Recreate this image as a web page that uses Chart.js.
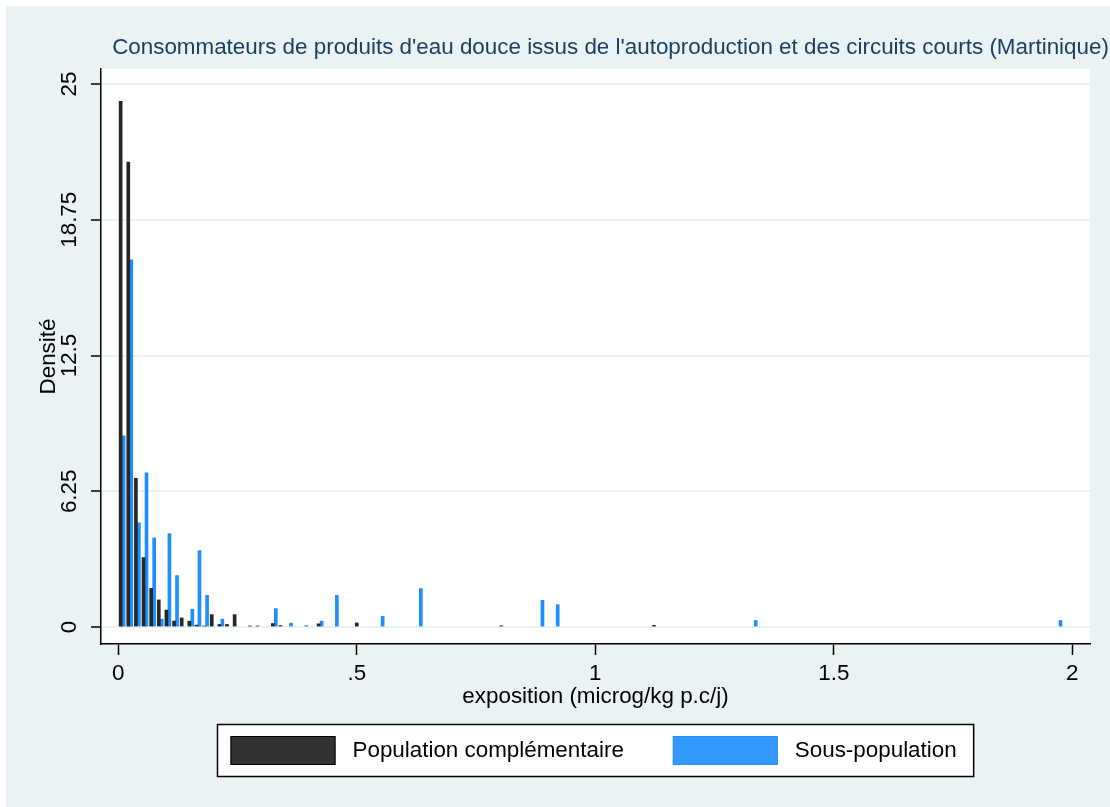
<!DOCTYPE html>
<html><head><meta charset="utf-8">
<script src="https://cdn.jsdelivr.net/npm/chart.js@4.4.1/dist/chart.umd.min.js"></script>
<style>html,body{margin:0;padding:0;background:#fff;} canvas{display:block;}</style>
</head><body>
<canvas id="c" width="1110" height="807"></canvas>
<script>
const chartTitle = "Consommateurs de produits d'eau douce issus de l'autoproduction et des circuits courts (Martinique)";
const xAxisTitle = "exposition (microg/kg p.c/j)";
const yAxisTitle = "Densité";
const seriesNames = ["Population complémentaire", "Sous-population"];
const xTickValues = [0, 0.5, 1, 1.5, 2];
const xTickLabels = ["0", ".5", "1", "1.5", "2"];
const yTickValues = [0, 6.25, 12.5, 18.75, 25];
const yTickLabels = ["0", "6.25", "12.5", "18.75", "25"];

// Population complémentaire : bin mid-points and densities
const complBinX = [0.008, 0.024, 0.040, 0.056, 0.072, 0.088, 0.104, 0.120, 0.136, 0.152, 0.167, 0.183, 0.199, 0.215, 0.231, 0.247, 0.279, 0.295, 0.327, 0.343, 0.423, 0.503, 0.806, 1.126];
const complDensity = [24.2, 21.4, 6.85, 3.2, 1.78, 1.25, 0.78, 0.28, 0.42, 0.27, 0.09, 0.05, 0.57, 0.12, 0.12, 0.57, 0.05, 0.05, 0.16, 0.07, 0.15, 0.19, 0.06, 0.08];

// Sous-population : bin mid-points and densities
const sousBinX = [0.008, 0.024, 0.040, 0.056, 0.072, 0.088, 0.104, 0.120, 0.152, 0.167, 0.183, 0.215, 0.327, 0.359, 0.391, 0.423, 0.455, 0.551, 0.631, 0.886, 0.918, 1.333, 1.972];
const sousDensity = [8.8, 16.9, 4.8, 7.1, 4.1, 0.36, 4.3, 2.37, 0.82, 3.52, 1.46, 0.36, 0.85, 0.18, 0.07, 0.27, 1.46, 0.49, 1.77, 1.23, 1.03, 0.3, 0.3];

const FONT = "'Liberation Sans', Arial, Helvetica, sans-serif";
const FS = 22.4;
const BG = '#EAF2F3';
const COL_COMPL = '#262626';
const COL_SOUS = '#1E8FFF';
const LEG_COMPL = '#333333';
const LEG_SOUS = '#3399FF';

const toPoints = (xs, ys) => xs.map((x, i) => ({x: x, y: ys[i]}));

const stataPlugin = {
  id: 'stataLook',
  beforeDraw(chart) {
    const {ctx, chartArea: a, width, height} = chart;
    ctx.save();
    ctx.fillStyle = '#ffffff';
    ctx.fillRect(0, 0, width, height);
    ctx.fillStyle = BG;
    ctx.fillRect(6, 6, width - 6, height - 6);
    ctx.fillStyle = '#ffffff';
    ctx.fillRect(a.left, a.top, a.right - a.left, a.bottom - a.top);
    ctx.restore();
  },
  afterDraw(chart) {
    const {ctx, chartArea: a} = chart;
    ctx.save();
    ctx.font = FS + 'px ' + FONT;
    ctx.fillStyle = '#1A3F66';
    ctx.textBaseline = 'middle';
    ctx.textAlign = 'center';
    ctx.fillText(chartTitle, 610.5, 48);

    // legend
    const sw = 105, sh = 29, padL = 13, gapT = 17, gapItem = 49, padR = 17;
    const ds = chart.data.datasets;
    const w0 = ctx.measureText(ds[0].label).width;
    const w1 = ctx.measureText(ds[1].label).width;
    const total = padL + sw + gapT + w0 + gapItem + sw + gapT + w1 + padR;
    const cx = (a.left + a.right) / 2;
    const bx = Math.round(cx - total / 2) + 0.5;
    const top = 724.5, h = 52;
    ctx.fillStyle = '#ffffff';
    ctx.fillRect(bx, top, total, h);
    ctx.strokeStyle = '#000000';
    ctx.lineWidth = 1.5;
    ctx.strokeRect(bx, top, total, h);
    const sy = 736;
    let x = bx + padL;
    const sw0 = [LEG_COMPL, LEG_SOUS];
    const bc = ['#000000', '#2a8cf0'];
    [w0, w1].forEach((w, i) => {
      ctx.fillStyle = sw0[i];
      ctx.fillRect(x, sy, sw, sh);
      ctx.strokeStyle = bc[i];
      ctx.lineWidth = 1;
      ctx.strokeRect(x + 0.5, sy + 0.5, sw - 1, sh - 1);
      x += sw + gapT;
      ctx.fillStyle = '#000000';
      ctx.textAlign = 'left';
      ctx.fillText(ds[i].label, x, 751);
      x += w + gapItem;
    });
    ctx.restore();
  }
};

Chart.defaults.font.family = FONT;
Chart.defaults.font.size = FS;
Chart.defaults.color = '#000000';

new Chart(document.getElementById('c'), {
  type: 'bar',
  data: {
    datasets: [
      { label: seriesNames[0], data: toPoints(complBinX, complDensity), backgroundColor: COL_COMPL, borderWidth: 0, barThickness: 3 },
      { label: seriesNames[1], data: toPoints(sousBinX, sousDensity), backgroundColor: COL_SOUS, borderWidth: 0, barThickness: 3 }
    ]
  },
  options: {
    responsive: false,
    animation: false,
    devicePixelRatio: 1,
    layout: { padding: { top: 69, left: 0, right: 20, bottom: 93 } },
    plugins: { legend: { display: false }, title: { display: false }, tooltip: { enabled: false } },
    scales: {
      x: {
        type: 'linear',
        offset: false,
        min: -0.0363,
        max: 2.037,
        afterBuildTicks: s => { s.ticks = xTickValues.map(v => ({value: v})); },
        afterFit: s => { s.height = 70; },
        grid: { display: true, offset: false, drawOnChartArea: false, drawTicks: true, tickLength: 11, tickColor: '#000000', tickWidth: 1.5 },
        border: { display: true, color: '#000000', width: 1.5 },
        ticks: { autoSkip: false, maxRotation: 0, padding: 5.5, callback: (v, i) => xTickLabels[i], font: { size: FS } },
        title: { display: true, text: xAxisTitle, padding: { top: 0, bottom: 3.5 }, font: { size: FS } }
      },
      y: {
        type: 'linear',
        min: -0.78,
        max: 25.69,
        afterBuildTicks: s => { s.ticks = yTickValues.map(v => ({value: v})); },
        afterFit: s => { s.width = 101; },
        grid: { display: true, offset: false, drawOnChartArea: true, color: BG, lineWidth: 2, drawTicks: true, tickLength: 10, tickColor: '#000000', tickWidth: 1.5 },
        border: { display: true, color: '#000000', width: 1.5 },
        ticks: { autoSkip: false, minRotation: 90, maxRotation: 90, crossAlign: 'center', padding: -7, callback: (v, i) => yTickLabels[i], font: { size: FS } },
        title: { display: true, text: yAxisTitle, padding: { top: 35.5, bottom: 0 }, font: { size: FS } }
      }
    }
  },
  plugins: [stataPlugin]
});
</script>
</body></html>
